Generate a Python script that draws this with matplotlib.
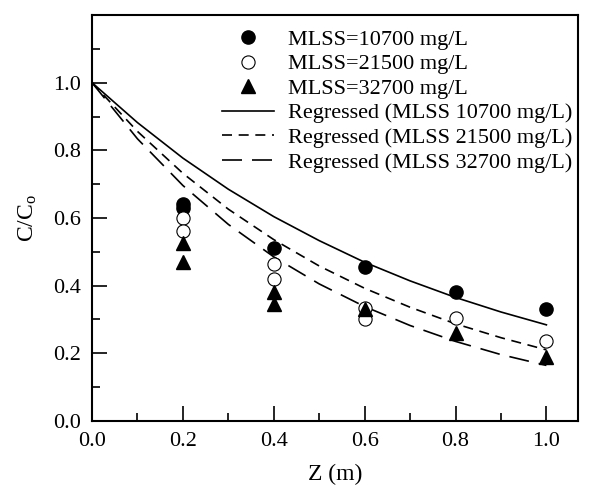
import matplotlib
matplotlib.use("Agg")
import matplotlib.pyplot as plt
from matplotlib.ticker import MultipleLocator

plt.rcParams['font.family'] = ['Liberation Serif', 'DejaVu Serif']
plt.rcParams['mathtext.default'] = 'regular'

# measured points
z_pts = [0.2, 0.2, 0.4, 0.6, 0.8, 1.0]
c_10700 = [0.64, 0.63, 0.51, 0.455, 0.38, 0.33]

z_21500 = [0.2, 0.2, 0.4, 0.4, 0.6, 0.6, 0.8, 1.0]
c_21500 = [0.60, 0.56, 0.465, 0.42, 0.335, 0.30, 0.305, 0.235]

z_32700 = [0.2, 0.2, 0.4, 0.4, 0.6, 0.8, 1.0]
c_32700 = [0.525, 0.47, 0.38, 0.345, 0.33, 0.26, 0.19]

# regressed curves
z_fit = [0.0, 0.1, 0.2, 0.3, 0.4, 0.5, 0.6, 0.7, 0.8, 0.9, 1.0]
fit_10700 = [1.0, 0.882, 0.777, 0.685, 0.604, 0.533, 0.469, 0.414, 0.365, 0.322, 0.284]
fit_21500 = [1.0, 0.856, 0.732, 0.626, 0.536, 0.458, 0.392, 0.336, 0.287, 0.246, 0.210]
fit_32700 = [1.0, 0.834, 0.696, 0.581, 0.485, 0.405, 0.338, 0.282, 0.235, 0.196, 0.164]

fig = plt.figure(figsize=(5.9, 4.86), dpi=100)
ax = fig.add_axes([0.156, 0.134, 0.824, 0.835])

ax.plot(z_pts, c_10700, 'o', color='black', ms=9.5, label='MLSS=10700 mg/L', zorder=3)
ax.plot(z_21500, c_21500, 'o', mfc='white', mec='black', mew=0.8, ms=9.5,
        label='MLSS=21500 mg/L', zorder=3)
ax.plot(z_32700, c_32700, '^', color='black', ms=9.5, label='MLSS=32700 mg/L', zorder=3)

ax.plot(z_fit, fit_10700, '-', color='black', lw=1.2, label='Regressed (MLSS 10700 mg/L)')
ax.plot(z_fit, fit_21500, color='black', lw=1.2, dashes=(6, 4),
        label='Regressed (MLSS 21500 mg/L)')
ax.plot(z_fit, fit_32700, color='black', lw=1.2, dashes=(12, 6),
        label='Regressed (MLSS 32700 mg/L)')

ax.set_xlim(0, 1.07)
ax.set_ylim(0, 1.2)
ax.xaxis.set_minor_locator(MultipleLocator(0.1))
ax.yaxis.set_minor_locator(MultipleLocator(0.1))
ax.set_xticks([0.0, 0.2, 0.4, 0.6, 0.8, 1.0])
ax.set_yticks([0.0, 0.2, 0.4, 0.6, 0.8, 1.0])
ax.tick_params(which='both', direction='in', labelsize=16, width=1.2)
ax.tick_params(which='major', length=11, pad=8)
ax.tick_params(which='minor', length=6)
for s in ax.spines.values():
    s.set_linewidth(1.5)

ax.set_xlabel('Z (m)', fontsize=17, labelpad=9)
ax.set_ylabel('C/C$_o$', fontsize=17, labelpad=10)

ax.legend(loc='upper left', bbox_to_anchor=(0.267, 0.965), frameon=False, fontsize=16,
          handlelength=2.35, labelspacing=0.18, handletextpad=0.63, borderpad=0,
          borderaxespad=0)

fig.savefig('out.png', dpi=100)
